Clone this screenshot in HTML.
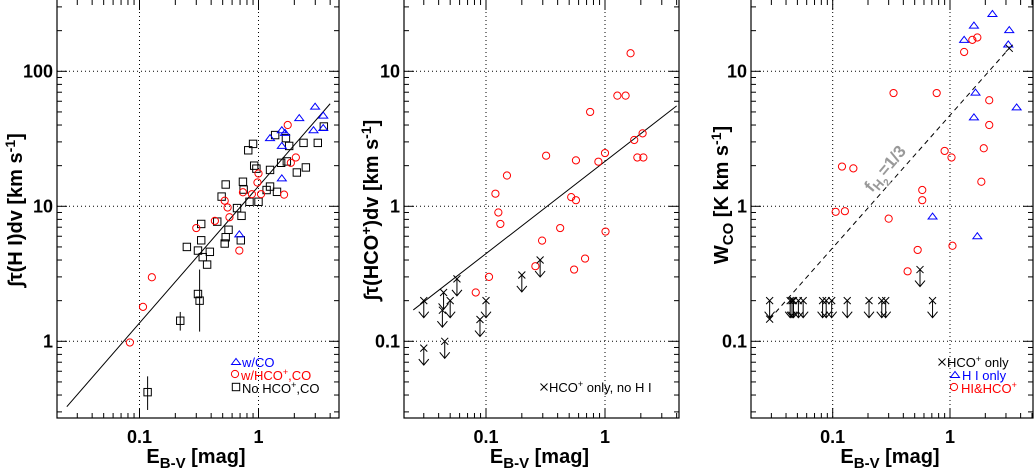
<!DOCTYPE html>
<html><head><meta charset="utf-8">
<style>
body{margin:0;background:#fff;}
svg{display:block;font-family:"Liberation Sans",sans-serif;}
</style></head>
<body>
<svg id="c" width="1034" height="470" viewBox="0 0 1034 470"></svg>
<script>
// ---- Panel 1 data: integrated HI opacity vs E(B-V)
const p1TriX=[2.99,2.2,3.5,2.9,3.5,1.57,1.25,1.67,1.57,1.57,0.69];
const p1TriY=[54.7,45,47,36.6,38,36.6,32,35,28,16.1,6.2];
const p1CirX=[1.76,2.06,1.87,1.64,1.0,0.98,1.05,0.88,0.74,0.52,0.55,0.57,0.43,0.30,0.69,0.127,0.107,0.083];
const p1CirY=[40,23,21,12.2,17.5,15,12.3,12.3,12.7,11,9.8,8.3,7.8,6.9,4.7,2.98,1.8,0.98];
const p1SqX=[3.54,3.15,2.39,1.38,1.7,1.81,0.82,0.9,0.92,0.96,1.55,1.73,2.5,2.1,1.25,1.25,1.17,1.43,0.74,0.53,0.75,1.0,0.84,0.49,0.66,0.72,0.45,0.56,0.53,0.52,0.71,0.33,0.33,0.25,0.31,0.39,0.34,0.37,0.31,0.32,0.22,0.117];
const p1SqY=[39,29.5,29.5,33.7,32,28,26,29,20,19,21,21.5,19.4,17.8,18.6,14,13.2,12.8,15.2,14.5,13.3,10.8,10.8,11.8,9.7,8.5,7.7,6.7,5.9,5.3,5.6,7.4,5.6,5.0,4.7,4.6,4.2,3.7,2.24,2.0,1.42,0.42];
const p1ErrX=[0.32,0.22,0.117];
const p1ErrLo=[1.18,1.2,0.31];
const p1ErrHi=[3.4,1.65,0.55];
const p1FitA=14.1, p1FitB=1.014, p1FitX=[0.0245,4.0];
// ---- Panel 2 data: HCO+
const p2CirX=[1.64,1.27,1.49,0.75,2.07,1.76,1.87,2.1,1.0,0.88,0.57,0.32,0.15,0.12,0.127,0.132,0.52,0.57,0.42,1.01,0.296,0.68,0.55,0.26,0.106,0.082];
const p2CirY=[13.6,6.6,6.6,5.0,3.47,3.1,2.3,2.3,2.48,2.14,2.19,2.37,1.69,1.24,0.90,0.74,1.17,1.11,0.69,0.65,0.557,0.41,0.34,0.36,0.30,0.23];
const p2LimX=[0.03,0.03,0.044,0.043,0.045,0.05,0.057,0.1,0.089,0.20,0.285];
const p2LimY=[0.2,0.089,0.23,0.17,0.10,0.2,0.29,0.2,0.145,0.31,0.40];
const p2FitA=2.15, p2FitB=0.683, p2FitX=[0.0245,4.0];
// ---- Panel 3 data: W_CO
const p3TriX=[2.3,1.6,3.2,1.32,3.14,1.65,3.7,1.6,0.71,1.71];
const p3TriY=[26.6,21.8,20.2,17.1,15.8,6.95,5.4,4.56,0.84,0.60];
const p3CirX=[1.71,1.55,1.32,0.77,0.33,2.16,2.16,1.94,0.9,1.03,0.12,0.15,1.85,0.58,0.58,0.106,0.127,0.30,1.05,0.53,0.435];
const p3CirY=[17.8,17.1,13.9,6.9,6.9,6.1,4.0,2.69,2.57,2.3,1.97,1.91,1.52,1.32,1.11,0.91,0.92,0.81,0.51,0.475,0.33];
const p3CrossX=[3.2,0.029];
const p3CrossY=[14.8,0.146];
const p3LimX=[0.029,0.0434,0.045,0.0463,0.051,0.056,0.082,0.088,0.098,0.133,0.204,0.262,0.283,0.71,0.555];
const p3LimY=[0.2,0.2,0.2,0.2,0.2,0.2,0.2,0.2,0.2,0.2,0.2,0.2,0.2,0.2,0.34];
const p3LineX=[0.029,3.2], p3LineY=[0.146,14.8];

const NS="http://www.w3.org/2000/svg";
const svg=document.getElementById('c');
function el(tag,attrs,parent){const e=document.createElementNS(NS,tag);for(const k in attrs)e.setAttribute(k,attrs[k]);(parent||svg).appendChild(e);return e;}
const L=Math.log10;

function makePanel(name,x0,x1){
  const g=el('g',{});
  
  
  return {g,x0,x1,top:0,bot:418};
}
function axes(p,yvals,ylabs,yref,yrefPx){
  const {g,x0,x1,top,bot,sx}=p;
  const sy=v=>yrefPx-(L(v)-L(yref))*135;
  p.sy=sy;
  [0.1,1].forEach(v=>{const l=el('line',{x1:sx(v),x2:sx(v),y1:top,y2:bot,stroke:'#000','stroke-width':1,'stroke-dasharray':'1,3'},g);});
  yvals.forEach(v=>{const l=el('line',{x1:x0,x2:x1,y1:sy(v),y2:sy(v),stroke:'#000','stroke-width':1,'stroke-dasharray':'1,3'},g);});
  const b=el('rect',{x:x0,y:top-1,width:x1-x0,height:bot-top+1,fill:'none',stroke:'#000','stroke-width':1.2},g);
  
  for(let e=-2;e<=0;e++)for(let m=1;m<=9;m++){const v=m*Math.pow(10,e);const x=sx(v);if(x<x0+1||x>x1-1)continue;const len=m==1?10:5;
    el('line',{x1:x,x2:x,y1:bot,y2:bot-len,stroke:'#000'},g);el('line',{x1:x,x2:x,y1:top,y2:top+len,stroke:'#000'},g);}
  for(let e=-2;e<=2;e++)for(let m=1;m<=9;m++){const v=m*Math.pow(10,e);const y=sy(v);if(y<top+1||y>bot-1)continue;const len=m==1?10:5;
    el('line',{x1:x0,x2:x0+len,y1:y,y2:y,stroke:'#000'},g);el('line',{x1:x1,x2:x1-len,y1:y,y2:y,stroke:'#000'},g);}
  [[0.1,'0.1'],[1,'1']].forEach(([v,s])=>{const t=el('text',{x:sx(v),y:443,'text-anchor':'middle','font-size':18,'font-weight':'bold'},g);t.textContent=s;});
  yvals.forEach((v,i)=>{const t=el('text',{x:x0-4,y:sy(v)+6,'text-anchor':'end','font-size':18,'font-weight':'bold'},g);t.textContent=ylabs[i];});
  const xt=el('text',{x:(x0+x1)/2-2,y:463,'text-anchor':'middle','font-size':20,'font-weight':'bold'},g);
  xt.innerHTML='E<tspan font-size="15" dy="5">B-V</tspan><tspan dy="-5"> [mag]</tspan>';
  
}
function sq(g,x,y,c){const s=el('rect',{x:x-3.7,y:y-3.7,width:7.4,height:7.4,fill:'none',stroke:c,'stroke-width':1},g);}
function cir(g,x,y,c){const s=el('circle',{cx:x,cy:y,r:3.6,fill:'none',stroke:c,'stroke-width':1},g);}
function tri(g,x,y,c){const s=el('path',{d:`M${x-4.5} ${y+2.5}L${x} ${y-3.5}L${x+4.5} ${y+2.5}Z`,fill:'none',stroke:c,'stroke-width':1},g);}
function cross(g,x,y,c){const s=el('path',{d:`M${x-3.5} ${y-3.5}L${x+3.5} ${y+3.5}M${x-3.5} ${y+3.5}L${x+3.5} ${y-3.5}`,stroke:c||'#000','stroke-width':1},g);}
function limit(g,x,y){cross(g,x,y);const a=el('path',{d:`M${x} ${y}L${x} ${y+17}M${x-5} ${y+11}L${x} ${y+17}L${x+5} ${y+11}`,stroke:'#000',fill:'none','stroke-width':1},g);}
function ytitle(x,y,html,name){const t=el('text',{x:0,y:0,transform:`translate(${x},${y}) rotate(-90)`,'text-anchor':'middle','font-size':20,'font-weight':'bold'});t.innerHTML=html;}

// Panel 1
const P1=makePanel('panel-hi',57,339);
P1.sx=v=>139.5+(L(v)+1)*119;
axes(P1,[1,10,100],['1','10','100'],1,341.3);
{const g=P1.g,sx=P1.sx,sy=P1.sy;
 const f=el('line',{x1:sx(p1FitX[0]),y1:sy(p1FitA*Math.pow(p1FitX[0],p1FitB)),x2:sx(p1FitX[1]),y2:sy(p1FitA*Math.pow(p1FitX[1],p1FitB)),stroke:'#000','stroke-width':1},g);
 
 p1ErrX.forEach((x,i)=>{const e=el('line',{x1:sx(x),x2:sx(x),y1:sy(p1ErrLo[i]),y2:sy(p1ErrHi[i]),stroke:'#000'},g);});
 p1SqX.forEach((x,i)=>sq(g,sx(x),sy(p1SqY[i]),'#000'));
 p1CirX.forEach((x,i)=>cir(g,sx(x),sy(p1CirY[i]),'#f00'));
 p1TriX.forEach((x,i)=>tri(g,sx(x),sy(p1TriY[i]),'#00f'));
 const lg=el('g',{},g);
 tri(lg,236,362,'#00f');cir(lg,235,374,'#f00');sq(lg,236,387,'#000');
 const t1=el('text',{x:242,y:367,'font-size':13,fill:'#00f'},lg);t1.textContent='w/CO';
 const t2=el('text',{x:241,y:380,'font-size':13,fill:'#f00'},lg);t2.innerHTML='w/HCO<tspan font-size="9" dy="-5">+</tspan><tspan dy="5">,CO</tspan>';
 const t3=el('text',{x:242,y:393,'font-size':13,fill:'#000'},lg);t3.innerHTML='No HCO<tspan font-size="9" dy="-5">+</tspan><tspan dy="5">,CO</tspan>';
}
ytitle(22,210,'∫τ(H I)dv [km s<tspan font-size="14" dy="-7">-1</tspan><tspan dy="7">]</tspan>','y-axis-title');

// Panel 2
const P2=makePanel('panel-hco',404,679);
P2.sx=v=>486+(L(v)+1)*119;
axes(P2,[0.1,1,10],['0.1','1','10'],1,206.3);
{const g=P2.g,sx=P2.sx,sy=P2.sy;
 const f=el('line',{x1:sx(p2FitX[0]),y1:sy(p2FitA*Math.pow(p2FitX[0],p2FitB)),x2:sx(p2FitX[1]),y2:sy(p2FitA*Math.pow(p2FitX[1],p2FitB)),stroke:'#000','stroke-width':1},g);
 
 p2CirX.forEach((x,i)=>cir(g,sx(x),sy(p2CirY[i]),'#f00'));
 p2LimX.forEach((x,i)=>limit(g,sx(x),sy(p2LimY[i])));
 const lg=el('g',{},g);
 cross(lg,544,387);
 const t=el('text',{x:549,y:392,'font-size':13},lg);t.innerHTML='HCO<tspan font-size="9" dy="-5">+</tspan><tspan dy="5"> only, no H I</tspan>';
}
ytitle(378,210,'∫τ(HCO<tspan font-size="14" dy="-7">+</tspan><tspan dy="7">)dv [km s</tspan><tspan font-size="14" dy="-7">-1</tspan><tspan dy="7">]</tspan>','y-axis-title');

// Panel 3
const P3=makePanel('panel-co',751,1033);
P3.sx=v=>832.7+(L(v)+1)*117.3;
axes(P3,[0.1,1,10],['0.1','1','10'],1,206.3);
{const g=P3.g,sx=P3.sx,sy=P3.sy;
 const d=el('line',{x1:sx(p3LineX[0]),y1:sy(p3LineY[0]),x2:sx(p3LineX[1]),y2:sy(p3LineY[1]),stroke:'#000','stroke-width':1,'stroke-dasharray':'5,4'},g);
 
 const lt=el('text',{x:0,y:0,transform:'translate(872,193) rotate(-50)','font-size':17,'font-weight':'bold',fill:'#999'},g);
 lt.innerHTML='f<tspan font-size="13" dy="4">H</tspan><tspan font-size="10" dy="4">2</tspan><tspan dy="-8">=1/3</tspan>';
 
 p3CirX.forEach((x,i)=>cir(g,sx(x),sy(p3CirY[i]),'#f00'));
 p3TriX.forEach((x,i)=>tri(g,sx(x),sy(p3TriY[i]),'#00f'));
 p3CrossX.forEach((x,i)=>cross(g,sx(x),sy(p3CrossY[i])));
 p3LimX.forEach((x,i)=>limit(g,sx(x),sy(p3LimY[i])));
 const lg=el('g',{},g);
 cross(lg,942,362);tri(lg,955,375,'#00f');cir(lg,954,387,'#f00');
 const t1=el('text',{x:947,y:367,'font-size':13},lg);t1.innerHTML='HCO<tspan font-size="9" dy="-5">+</tspan><tspan dy="5"> only</tspan>';
 const t2=el('text',{x:962,y:380,'font-size':13,fill:'#00f'},lg);t2.textContent='H I only';
 const t3=el('text',{x:961,y:393,'font-size':13,fill:'#f00'},lg);t3.innerHTML='HI&amp;HCO<tspan font-size="9" dy="-5">+</tspan>';
}
ytitle(728,195,'W<tspan font-size="15" dy="5">CO</tspan><tspan dy="-5"> [K km s</tspan><tspan font-size="14" dy="-7">-1</tspan><tspan dy="7">]</tspan>','y-axis-title');
</script>
</body></html>
